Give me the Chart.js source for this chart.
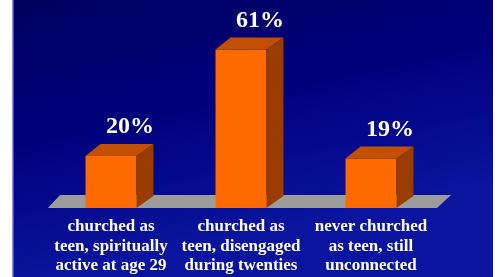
<!DOCTYPE html>
<html>
<head>
<meta charset="utf-8">
<script src="https://cdn.jsdelivr.net/npm/chart.js@4"></script>
<style>
    html, body { margin: 0; padding: 0; background: #ffffff; }
    #wrap { width: 497px; height: 277px; }
</style>
</head>
<body>
<div id="wrap"><canvas id="chart" width="497" height="277"></canvas></div>
<script>
const categories = [
    ['churched as', 'teen, spiritually', 'active at age 29'],
    ['churched as', 'teen, disengaged', 'during twenties'],
    ['never churched', 'as teen, still', 'unconnected']
];
const percentages = [20, 61, 19];
const valueLabels = ['20%', '61%', '19%'];

const colors = {
    front: '#ff6a00',
    side: '#9a3c00',
    top: '#c25000',
    floor: '#9c9c9c',
    text: '#ffffff'
};

const depth = { dx: 17, dy: -12 };

// background, floor and 3D faces around the library's bars
const threeD = {
    id: 'threeD',
    beforeDraw(chart) {
        const c = chart.ctx;
        const area = chart.chartArea;
        c.save();
        const g = c.createLinearGradient(0, 0, 60, chart.height);
        g.addColorStop(0, '#00005e');
        g.addColorStop(0.5, '#00007c');
        g.addColorStop(1, '#0a149e');
        c.fillStyle = g;
        c.fillRect(13, 0, 480, chart.height);
        c.fillStyle = '#8c8cf0';
        c.fillRect(12, 0, 1.5, chart.height);

        // floor
        const yb = chart.scales.y.getPixelForValue(0);
        c.fillStyle = colors.floor;
        c.beginPath();
        c.moveTo(area.left + 2, yb);
        c.lineTo(area.right + 1, yb);
        c.lineTo(area.right + 15, yb - 13);
        c.lineTo(area.left + 14, yb - 13);
        c.closePath();
        c.fill();
        c.restore();
    },
    afterDatasetsDraw(chart) {
        const c = chart.ctx;
        const meta = chart.getDatasetMeta(0);
        c.save();
        meta.data.forEach((bar, i) => {
            const half = bar.width / 2;
            const x1 = bar.x - half, x2 = bar.x + half;
            const top = bar.y, base = bar.base;
            // side
            c.fillStyle = colors.side;
            c.beginPath();
            c.moveTo(x2, top);
            c.lineTo(x2 + depth.dx, top + depth.dy);
            c.lineTo(x2 + depth.dx, base + depth.dy);
            c.lineTo(x2, base);
            c.closePath();
            c.fill();
            // top
            c.fillStyle = colors.top;
            c.beginPath();
            c.moveTo(x1, top);
            c.lineTo(x2, top);
            c.lineTo(x2 + depth.dx, top + depth.dy);
            c.lineTo(x1 + depth.dx - 2, top + depth.dy);
            c.closePath();
            c.fill();

            c.fillStyle = colors.text;
            c.font = 'bold 24px "Liberation Serif", "Times New Roman", serif';
            c.textAlign = 'center';
            c.textBaseline = 'middle';
            c.fillText(valueLabels[i], bar.x + 19, top - 29);
        });
        c.restore();
    }
};

new Chart(document.getElementById('chart'), {
    type: 'bar',
    data: {
        labels: categories,
        datasets: [{
            data: percentages,
            backgroundColor: colors.front,
            borderWidth: 0,
            barPercentage: 0.392,
            categoryPercentage: 1
        }]
    },
    options: {
        responsive: false,
        animation: false,
        events: [],
        layout: { padding: { left: 46, right: 61, top: 26, bottom: 0 } },
        plugins: {
            legend: { display: false },
            tooltip: { enabled: false }
        },
        scales: {
            x: {
                grid: { display: false },
                border: { display: false },
                afterFit(scale) { scale.height = 69; },
                ticks: {
                    color: colors.text,
                    padding: 1,
                    maxRotation: 0,
                    autoSkip: false,
                    font: { family: '"Liberation Serif", "Times New Roman", serif', size: 17, weight: 'bold', lineHeight: 1.15 }
                }
            },
            y: {
                display: false,
                min: 0,
                max: 70
            }
        }
    },
    plugins: [threeD]
});
</script>
</body>
</html>
